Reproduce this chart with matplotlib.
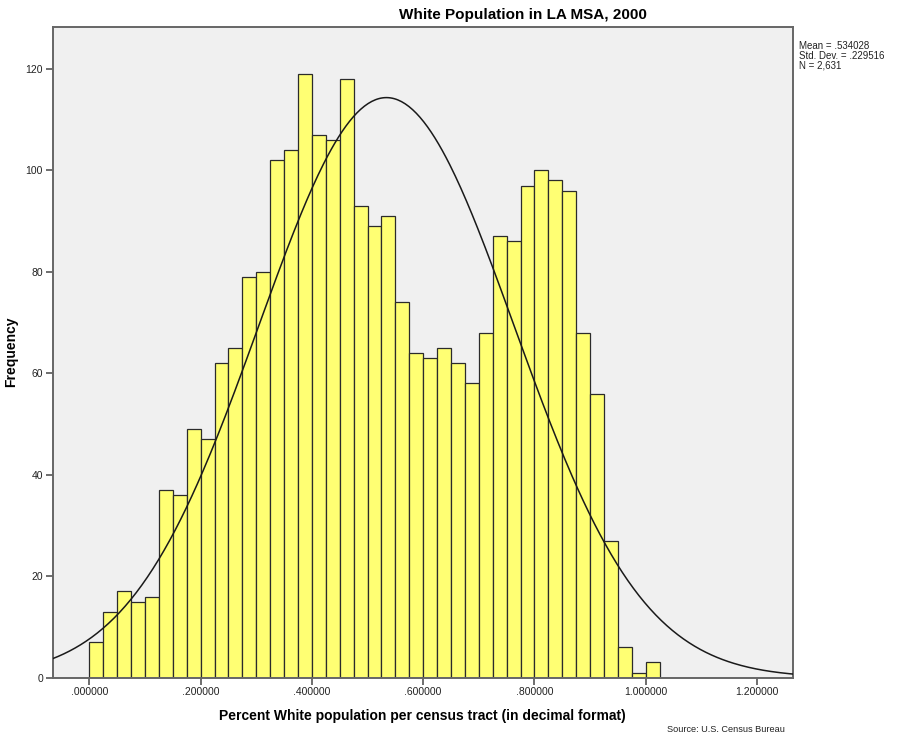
import numpy as np
import matplotlib
matplotlib.use('Agg')
import matplotlib.pyplot as plt

# --- data ---
bin_start = 0.0
bin_width = 0.025
counts = [7, 13, 17, 15, 16, 37, 36, 49, 47, 62,
          65, 79, 80, 102, 104, 119, 107, 106, 118, 93,
          89, 91, 74, 64, 63, 65, 62, 58, 68, 87,
          86, 97, 100, 98, 96, 68, 56, 27, 6, 1, 3]
mean_val = 0.534028
std_val = 0.229516
n_val = 2631
x_ticks = [0.0, 0.2, 0.4, 0.6, 0.8, 1.0, 1.2]
y_ticks = [0, 20, 40, 60, 80, 100, 120]

plt.rcParams['font.family'] = ['Liberation Sans', 'DejaVu Sans']

fig = plt.figure(figsize=(9.01, 7.36), dpi=100)
ax = fig.add_axes([0.0585, 0.0792, 0.8216, 0.8845])
ax.set_facecolor('#f0f0f0')

lefts = bin_start + np.arange(len(counts)) * bin_width
ax.bar(lefts, counts, width=bin_width, align='edge',
       color='#ffff73', edgecolor='#2b2b2b', linewidth=0.9, zorder=2)

# fitted normal curve scaled to counts
xs = np.linspace(-0.0658, 1.2647, 400)
ys = n_val * bin_width / (std_val * np.sqrt(2 * np.pi)) * np.exp(-0.5 * ((xs - mean_val) / std_val) ** 2)
ax.plot(xs, ys, color='#1a1a1a', linewidth=1.1, zorder=3)

ax.set_xlim(-0.0658, 1.2647)
ax.set_ylim(0, 128.3)
ax.set_xticks(x_ticks)
ax.set_xticklabels([f"{v:.6f}".lstrip('0') if v < 1 else f"{v:.6f}" for v in x_ticks])
ax.set_yticks(y_ticks)
ax.tick_params(axis='both', direction='out', length=5, width=1.2, color='#555555',
               labelsize=7.5, labelcolor='#222222', pad=2)

for side in ['left', 'bottom', 'top', 'right']:
    ax.spines[side].set_color('#666666')
    ax.spines[side].set_linewidth(1.4)

ax.set_xlabel('Percent White population per census tract (in decimal format)',
              fontsize=10, fontweight='bold', labelpad=8)
ax.set_ylabel('Frequency', fontsize=10, fontweight='bold')
ax.yaxis.set_label_coords(-0.047, 0.5)

fig.text(523 / 901, 1 - 15 / 736, 'White Population in LA MSA, 2000',
         ha='center', va='center', fontsize=11, fontweight='bold')
fig.text(799 / 901, 1 - 41 / 736,
         f"Mean = {mean_val:.6f}".replace('0.', '.', 1) + "\n"
         + f"Std. Dev. = {std_val:.6f}".replace('0.', '.', 1) + "\n"
         + f"N = {n_val:,}",
         ha='left', va='top', fontsize=7, linespacing=1.0, color='#222222')
fig.text(785 / 901, 1 - 729 / 736, 'Source: U.S. Census Bureau',
         ha='right', va='center', fontsize=6.6, color='#222222')

fig.savefig('out.png', dpi=100, facecolor='white')
